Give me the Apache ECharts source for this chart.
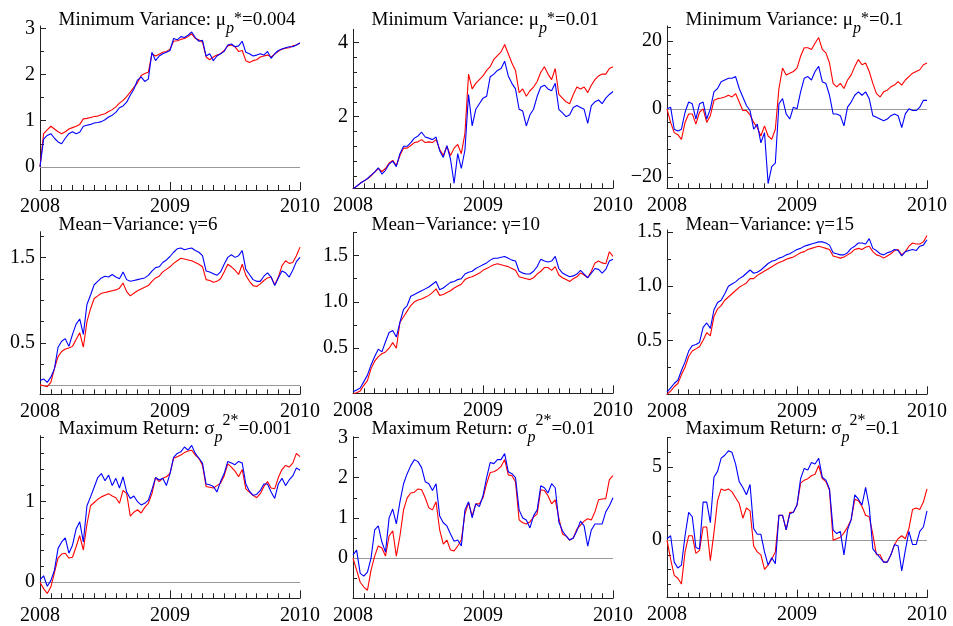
<!DOCTYPE html>
<html><head><meta charset="utf-8">
<script src="https://cdn.jsdelivr.net/npm/echarts@6/dist/echarts.min.js"></script>
<style>html,body{margin:0;padding:0;background:#fff}#c{width:953px;height:626px}</style>
</head><body><div id="c"></div>
<script>
// ---------- DATA ----------
const START_YEAR = 2008;
const STEPS_PER_YEAR = 36;           // one reading every ~10 days
const X_TICK_LABELS = [2008, 2009, 2010];

const minVar004Red = [0.0,0.72,0.8,0.88,0.82,0.76,0.72,0.76,0.82,0.85,0.88,0.92,1.04,1.05,1.07,1.09,1.1,1.13,1.15,1.2,1.24,1.3,1.38,1.44,1.52,1.62,1.72,1.82,1.98,2.02,2.05,2.45,2.4,2.44,2.48,2.5,2.55,2.72,2.73,2.76,2.78,2.82,2.88,2.78,2.75,2.7,2.38,2.32,2.38,2.42,2.45,2.52,2.62,2.64,2.6,2.5,2.52,2.3,2.26,2.3,2.32,2.38,2.4,2.42,2.38,2.44,2.5,2.55,2.57,2.58,2.62,2.64,2.68];
const minVar004Blue = [0.0,0.6,0.68,0.72,0.62,0.54,0.5,0.62,0.72,0.76,0.72,0.75,0.88,0.9,0.92,0.95,0.96,0.98,1.02,1.08,1.12,1.18,1.28,1.32,1.4,1.55,1.68,1.88,1.95,1.85,1.9,2.48,2.3,2.4,2.45,2.48,2.52,2.78,2.75,2.82,2.8,2.85,2.92,2.8,2.72,2.74,2.4,2.45,2.3,2.4,2.45,2.5,2.64,2.66,2.6,2.62,2.72,2.48,2.45,2.4,2.42,2.45,2.42,2.5,2.35,2.45,2.52,2.55,2.58,2.6,2.6,2.64,2.68];

const minVar01Red = [0.05,0.12,0.2,0.26,0.32,0.4,0.5,0.6,0.52,0.6,0.75,0.82,0.68,0.95,1.15,1.15,1.22,1.3,1.32,1.38,1.3,1.32,1.3,1.38,1.12,0.95,1.2,0.95,1.15,1.25,1.0,1.55,3.15,2.75,2.9,3.0,3.1,3.25,3.35,3.55,3.65,3.75,3.95,3.7,3.45,3.25,2.65,2.75,2.55,2.7,2.8,2.95,3.2,3.35,3.15,3.0,3.3,2.6,2.5,2.4,2.35,2.6,2.8,2.75,2.8,2.65,2.85,3.0,3.1,3.15,3.15,3.3,3.35];
const minVar01Blue = [0.05,0.12,0.2,0.26,0.33,0.42,0.5,0.62,0.45,0.55,0.72,0.8,0.65,1.0,1.2,1.2,1.3,1.42,1.48,1.58,1.45,1.42,1.38,1.45,1.08,0.9,1.22,0.85,0.2,1.0,0.6,1.1,2.6,1.75,2.2,2.35,2.5,2.55,3.08,3.15,3.25,3.3,3.5,3.1,2.9,2.75,2.2,2.15,1.75,2.05,2.2,2.55,2.8,2.85,2.75,2.7,2.9,2.2,2.1,2.0,2.05,2.25,2.3,2.25,2.2,1.82,2.3,2.4,2.45,2.35,2.5,2.6,2.68];

const minVar1Red = [0,-4,-7,-7.6,-9,-4,-1.5,-1.5,-4.5,-1,0,-4,-2,2.5,3,3.2,3.5,4,3.5,4.5,2,-0.5,-0.5,-1.8,-4,-5.5,-8,-5,-8,-9,-6,6,12,10,10.5,11,12,15.5,18,18,17.5,19.3,21,17.5,16.5,13.5,7.5,6.5,7.5,6,8.5,10,12.5,14.5,13,13.5,11,7.5,4.5,3.5,5,5.5,6.5,7,8,7,8.5,9.5,10.5,11,11.5,13,13.5];
const minVar1Blue = [0,0.5,-6,-6.5,-6,-1,2,1.5,-3,1.5,2,-3,0,5,6,8,8.5,9,9,9.5,6,3.5,1,-0.5,-6,-4.5,-10,-7,-22,-17,-16,1.5,3,-1.5,-3,0.5,0,5,9,9.5,8.5,11,12.5,8,7.5,4,-1.5,-1.5,-2,-5,0.5,2,4,5,4,5,3,-2,-2.5,-3,-3.5,-3,-2,-1.5,-2,-5.5,-1.5,0,-0.5,-0.5,0.5,2.5,2.5];

const meanVar6Red = [0.01,0.0,-0.01,0.04,0.2,0.34,0.4,0.43,0.44,0.46,0.54,0.62,0.45,0.75,0.9,1.02,1.05,1.08,1.09,1.1,1.11,1.12,1.14,1.2,1.1,1.05,1.08,1.11,1.13,1.15,1.17,1.22,1.26,1.28,1.33,1.36,1.39,1.43,1.46,1.49,1.48,1.47,1.46,1.44,1.42,1.39,1.24,1.23,1.21,1.22,1.25,1.33,1.42,1.39,1.35,1.3,1.42,1.29,1.22,1.17,1.16,1.19,1.23,1.26,1.27,1.18,1.27,1.4,1.46,1.43,1.44,1.52,1.62];
const meanVar6Blue = [0.06,0.08,0.04,0.1,0.2,0.45,0.52,0.55,0.46,0.6,0.72,0.78,0.6,0.95,1.06,1.18,1.22,1.26,1.28,1.27,1.3,1.27,1.25,1.33,1.24,1.22,1.23,1.24,1.25,1.26,1.29,1.34,1.38,1.39,1.44,1.47,1.51,1.56,1.6,1.61,1.59,1.6,1.61,1.58,1.56,1.52,1.34,1.33,1.31,1.29,1.33,1.42,1.5,1.53,1.5,1.52,1.58,1.36,1.3,1.24,1.22,1.22,1.28,1.32,1.27,1.17,1.26,1.34,1.32,1.27,1.35,1.45,1.5];

const meanVar10Red = [0.01,0.02,0.04,0.1,0.15,0.28,0.36,0.41,0.44,0.46,0.5,0.56,0.5,0.78,0.84,0.9,0.96,1.0,1.02,1.03,1.05,1.07,1.1,1.14,1.07,1.08,1.1,1.12,1.15,1.17,1.19,1.24,1.26,1.27,1.29,1.31,1.34,1.36,1.38,1.4,1.41,1.4,1.39,1.38,1.36,1.34,1.27,1.26,1.25,1.24,1.26,1.3,1.33,1.37,1.37,1.34,1.38,1.29,1.26,1.24,1.22,1.25,1.27,1.31,1.29,1.26,1.33,1.42,1.44,1.42,1.41,1.54,1.49];
const meanVar10Blue = [0.03,0.05,0.07,0.14,0.21,0.32,0.41,0.49,0.46,0.57,0.67,0.69,0.62,0.78,0.92,0.96,1.06,1.08,1.1,1.12,1.14,1.16,1.19,1.22,1.13,1.15,1.18,1.21,1.22,1.24,1.25,1.3,1.32,1.33,1.36,1.38,1.4,1.42,1.45,1.47,1.47,1.48,1.49,1.47,1.45,1.44,1.33,1.31,1.3,1.3,1.33,1.38,1.46,1.44,1.43,1.44,1.49,1.36,1.31,1.29,1.27,1.28,1.3,1.34,1.3,1.26,1.31,1.36,1.35,1.31,1.35,1.44,1.46];

const meanVar15Red = [0.0,0.03,0.07,0.1,0.18,0.25,0.35,0.4,0.42,0.44,0.5,0.57,0.54,0.72,0.79,0.82,0.87,0.9,0.93,0.96,0.99,1.01,1.03,1.07,1.07,1.1,1.12,1.14,1.16,1.18,1.2,1.22,1.23,1.25,1.26,1.27,1.29,1.31,1.32,1.34,1.35,1.36,1.37,1.36,1.35,1.34,1.28,1.27,1.26,1.27,1.29,1.31,1.34,1.35,1.34,1.36,1.37,1.32,1.29,1.28,1.26,1.28,1.3,1.33,1.34,1.29,1.32,1.37,1.4,1.39,1.39,1.41,1.47];
const meanVar15Blue = [0.02,0.06,0.1,0.13,0.22,0.3,0.4,0.45,0.46,0.48,0.62,0.66,0.61,0.78,0.85,0.87,0.93,1.0,1.02,1.04,1.07,1.09,1.12,1.15,1.12,1.13,1.15,1.18,1.21,1.23,1.24,1.26,1.27,1.29,1.3,1.32,1.34,1.35,1.37,1.38,1.39,1.4,1.41,1.41,1.4,1.38,1.31,1.3,1.29,1.29,1.31,1.35,1.37,1.4,1.4,1.39,1.44,1.35,1.33,1.3,1.29,1.31,1.32,1.34,1.33,1.28,1.32,1.33,1.34,1.33,1.37,1.38,1.43];

const maxRet001Red = [0.0,-0.08,-0.14,-0.06,0.12,0.3,0.35,0.36,0.3,0.31,0.44,0.58,0.4,0.72,0.95,0.99,1.03,1.06,1.08,1.1,1.07,1.05,0.98,1.14,1.1,0.82,0.87,0.9,0.86,0.93,0.98,1.1,1.3,1.25,1.29,1.31,1.35,1.54,1.56,1.58,1.61,1.63,1.64,1.58,1.54,1.45,1.19,1.18,1.17,1.2,1.23,1.32,1.47,1.43,1.38,1.31,1.4,1.16,1.12,1.08,1.05,1.1,1.19,1.25,1.17,1.16,1.3,1.4,1.45,1.43,1.48,1.6,1.56];
const maxRet001Blue = [0.03,0.08,-0.05,0.02,0.15,0.42,0.5,0.55,0.36,0.46,0.66,0.75,0.5,0.95,1.06,1.18,1.3,1.35,1.26,1.33,1.2,1.29,1.17,1.31,1.12,1.04,1.07,1.0,0.96,0.98,1.02,1.15,1.3,1.27,1.29,1.2,1.35,1.55,1.6,1.62,1.68,1.64,1.7,1.6,1.54,1.48,1.22,1.21,1.19,1.12,1.25,1.35,1.5,1.48,1.46,1.5,1.48,1.22,1.13,1.08,1.09,1.14,1.22,1.22,1.12,1.04,1.22,1.29,1.2,1.27,1.32,1.42,1.39];

const maxRet01Red = [0.0,-0.3,-0.6,-0.72,-0.8,-0.3,0.05,0.3,0.25,0.05,0.55,0.68,0.05,0.55,1.2,1.5,1.62,1.64,1.72,1.7,1.5,1.25,1.2,1.4,0.7,0.35,0.45,0.2,0.18,0.3,0.45,1.1,1.38,1.05,1.35,1.35,1.5,1.85,2.13,2.15,2.2,2.28,2.45,2.07,2.05,1.9,0.95,0.88,0.85,0.9,1.02,1.1,1.7,1.68,1.55,1.35,1.45,1.0,0.6,0.55,0.45,0.5,0.72,0.82,0.92,0.98,0.95,1.15,1.45,1.47,1.48,1.95,2.05];
const maxRet01Blue = [0.08,0.2,-0.38,-0.45,-0.35,0.0,0.7,0.8,0.4,0.15,1.0,1.22,0.85,1.4,1.85,2.1,2.3,2.45,2.4,2.25,1.9,1.85,1.68,1.85,1.05,0.88,0.8,0.6,0.42,0.45,0.3,1.2,1.4,1.0,1.35,1.28,1.55,2.0,2.38,2.35,2.45,2.45,2.6,2.15,2.1,2.0,1.2,1.0,0.95,0.75,1.05,1.2,1.8,1.75,1.62,1.85,1.75,0.9,0.68,0.55,0.45,0.5,0.68,0.92,0.8,0.3,0.7,0.85,0.85,0.85,1.15,1.3,1.5];

const maxRet1Red = [0.0,-1.3,-2.4,-2.6,-3.0,-0.8,0.3,0.3,-0.9,-0.7,0.9,0.9,-1.4,0.5,2.7,3.5,3.4,3.5,3.3,2.9,2.5,1.5,2.2,2.0,-0.4,-0.8,-1.0,-2.0,-1.7,-1.3,-0.8,1.7,1.7,0.7,1.9,1.9,2.4,3.9,4.1,4.2,4.4,4.5,5.1,4.2,4.0,3.4,0.0,0.1,0.2,0.5,0.9,1.4,2.8,2.7,2.3,1.7,1.6,0.4,-1.0,-1.0,-1.5,-1.5,-1.0,-0.3,0.1,0.3,0.1,0.8,2.1,2.2,2.1,2.6,3.5];
const maxRet1Blue = [0.1,0.3,-1.5,-1.9,-1.7,0.3,1.9,1.6,-0.5,-0.6,2.6,2.6,1.2,4.3,4.7,5.6,5.8,6.1,6.0,5.2,4.0,3.6,3.1,3.8,0.8,0.4,0.4,-0.8,-1.7,-1.2,-1.6,1.7,1.7,0.7,1.8,1.9,2.4,4.2,4.9,4.8,5.3,5.2,5.6,4.3,4.1,3.5,0.7,0.45,0.6,-1.0,0.7,1.4,3.1,2.8,2.4,3.6,2.3,-0.6,-0.9,-1.2,-1.5,-1.5,-1.0,-0.3,-0.4,-2.1,-0.7,0.6,-0.3,-0.3,0.6,0.9,2.0];

// y tick labels (major) and minor tick values per panel
const yLabels1 = [0,1,2,3],        yMinor1 = [-0.5,0.5,1.5,2.5];
const yLabels2 = [2,4],            yMinor2 = [0.4,0.8,1.2,1.6,2.4,2.8,3.2,3.6];
const yLabels3 = [-20,0,20],       yMinor3 = [-16,-12,-8,-4,4,8,12,16,24];
const yLabels4 = [0.5,1.5],        yMinor4 = [0,0.25,0.75,1.0,1.25,1.75];
const yLabels5 = [0.5,1.0,1.5],    yMinor5 = [0.25,0.75,1.25,1.75];
const yLabels6 = [0.5,1.0,1.5],    yMinor6 = [0.25,0.75,1.25];
const yLabels7 = [0,1],            yMinor7 = [-0.2,0.2,0.4,0.6,0.8,1.2,1.4,1.6,1.8];
const yLabels8 = [0,1,2,3],        yMinor8 = [-0.5,0.5,1.5,2.5];
const yLabels9 = [0,5],            yMinor9 = [-3,-2,-1,1,2,3,4,6,7];

const titles = [
  'Minimum Variance: μ{sub|p}{sup|*}=0.004',
  'Minimum Variance: μ{sub|p}{sup|*}=0.01',
  'Minimum Variance: μ{sub|p}{sup|*}=0.1',
  'Mean−Variance: γ=6',
  'Mean−Variance: γ=10',
  'Mean−Variance: γ=15',
  'Maximum Return: σ{sub|p}{sup2|2*}=0.001',
  'Maximum Return: σ{sub|p}{sup2|2*}=0.01',
  'Maximum Return: σ{sub|p}{sup2|2*}=0.1'
];

// ---------- LAYOUT ----------
const FONT = 'Liberation Serif';
const AX = '#222';
const panels = [
  {red:minVar004Red, blue:minVar004Blue, lab:yLabels1, minor:yMinor1, min:-0.5, max:3.05, dec:0, zero:true,  left:40,  top:26,    bottom:190},
  {red:minVar01Red,  blue:minVar01Blue,  lab:yLabels2, minor:yMinor2, min:0.065, max:4.36, dec:0, zero:false, left:353, top:29.3,  bottom:188.3},
  {red:minVar1Red,   blue:minVar1Blue,   lab:yLabels3, minor:yMinor3, min:-23.4, max:24.4, dec:0, zero:true,  left:667, top:26,    bottom:188.3},
  {red:meanVar6Red,  blue:meanVar6Blue,  lab:yLabels4, minor:yMinor4, min:-0.1, max:1.8,  dec:1, zero:true,  left:40,  top:231.7, bottom:394.3},
  {red:meanVar10Red, blue:meanVar10Blue, lab:yLabels5, minor:yMinor5, min:0.014, max:1.75, dec:1, zero:false, left:353, top:232.3, bottom:393.3},
  {red:meanVar15Red, blue:meanVar15Blue, lab:yLabels6, minor:yMinor6, min:0.0,  max:1.52, dec:1, zero:false, left:667, top:230,   bottom:394.3},
  {red:maxRet001Red, blue:maxRet001Blue, lab:yLabels7, minor:yMinor7, min:-0.2, max:1.82, dec:0, zero:true,  left:40,  top:435.7, bottom:598.3},
  {red:maxRet01Red,  blue:maxRet01Blue,  lab:yLabels8, minor:yMinor8, min:-1.0, max:3.02, dec:0, zero:true,  left:353, top:436.7, bottom:598.3},
  {red:maxRet1Red,   blue:maxRet1Blue,   lab:yLabels9, minor:yMinor9, min:-3.93, max:7.0, dec:0, zero:true,  left:667, top:437.7, bottom:597.7}
];
const titleTops = [3, 3, 3, 215.5, 215.5, 215.5, 412, 412, 412];

const dates = minVar004Red.map((_, i) => START_YEAR + i / STEPS_PER_YEAR);
const fmt = (v, d) => v.toFixed(d).replace('-', '\u2212');

const option = {animation:false, backgroundColor:'#fff', grid:[], xAxis:[], yAxis:[], series:[], title:[]};
panels.forEach((p, k) => {
  option.grid.push({left:p.left, top:p.top, width:260, height:p.bottom - p.top, containLabel:false});
  option.xAxis.push({
    type:'value', gridIndex:k, min:X_TICK_LABELS[0], max:X_TICK_LABELS[X_TICK_LABELS.length-1], interval:1,
    axisLine:{show:true, onZero:false, lineStyle:{color:AX, width:1}},
    axisTick:{show:true, inside:true, length:8, lineStyle:{color:AX}},
    minorTick:{show:true, splitNumber:12, length:5, lineStyle:{color:AX}},
    axisLabel:{fontFamily:FONT, fontSize:20, color:'#000', margin:7, formatter:v => String(v)},
    splitLine:{show:false}, minorSplitLine:{show:false}
  });
  option.yAxis.push({
    type:'value', gridIndex:k, min:p.min, max:p.max, position:'left',
    axisLine:{show:true, onZero:false, lineStyle:{color:AX, width:1}},
    axisTick:{show:true, inside:true, length:6, customValues:p.lab, lineStyle:{color:AX}},
    axisLabel:{customValues:p.lab, formatter:v => fmt(v, p.dec), fontFamily:FONT, fontSize:20, color:'#000', margin:5},
    splitLine:{show:false}
  });
  option.yAxis.push({
    type:'value', gridIndex:k, min:p.min, max:p.max, position:'left',
    axisLine:{show:false},
    axisTick:{show:true, inside:true, length:4, customValues:p.minor, lineStyle:{color:AX}},
    axisLabel:{show:false}, splitLine:{show:false}
  });
  const base = {type:'line', xAxisIndex:k, yAxisIndex:2*k, showSymbol:false, symbol:'none', silent:true, animation:false};
  option.series.push(Object.assign({}, base, {
    data: dates.map((d, i) => [d, p.red[i]]),
    lineStyle:{color:'#ff0000', width:1.1}, itemStyle:{color:'#ff0000'}, z:3,
    markLine: p.zero ? {silent:true, symbol:'none', z:1, label:{show:false},
      lineStyle:{color:'#999', width:1, type:'solid'}, data:[{yAxis:0}]} : undefined
  }));
  option.series.push(Object.assign({}, base, {
    data: dates.map((d, i) => [d, p.blue[i]]),
    lineStyle:{color:'#0000ff', width:1.1}, itemStyle:{color:'#0000ff'}, z:4
  }));
  option.title.push({
    text: titles[k], left: p.left + 18.5, top: titleTops[k], padding:0,
    textStyle:{fontFamily:FONT, fontSize:19, fontWeight:'normal', color:'#000',
      rich:{
        sub:{fontFamily:FONT, fontSize:16, fontStyle:'italic', color:'#000', padding:[18,0,0,0]},
        sup:{fontFamily:FONT, fontSize:16, color:'#000', padding:[0,0,2,0]},
        sup2:{fontFamily:FONT, fontSize:16, color:'#000', padding:[0,0,16,0]}
      }}
  });
});

const chart = echarts.init(document.getElementById('c'), null, {renderer:'canvas'});
chart.setOption(option);
</script>
</body></html>
